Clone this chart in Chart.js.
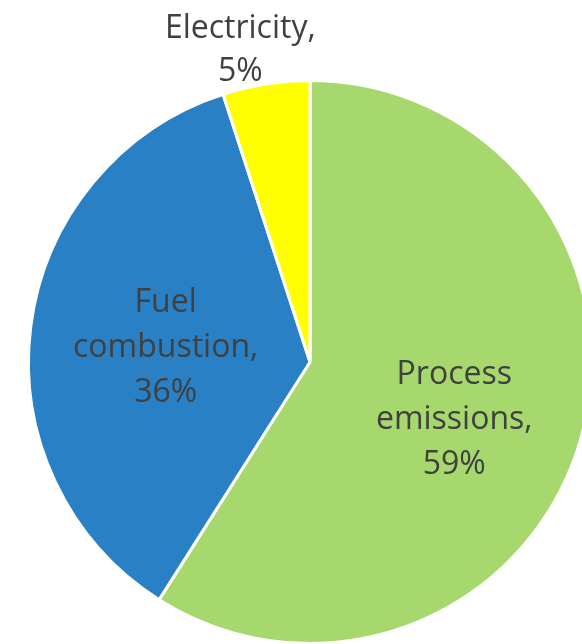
<!DOCTYPE html>
<html>
<head>
<meta charset="utf-8">
<script src="https://cdn.jsdelivr.net/npm/chart.js@4"></script>
<style>
  html, body { margin: 0; padding: 0; background: #fff; overflow: hidden; width: 582px; height: 644px; }
  canvas { display: block; }
</style>
</head>
<body>
<canvas id="pie" width="620" height="646"></canvas>
<script>
// data
const categories = ['Process emissions', 'Fuel combustion', 'Electricity'];
const shares = [59, 36, 5];
const sliceColors = ['#A6D86E', '#2A80C5', '#FFFF00'];

// where each label sits: fraction of radius + small angle nudge (degrees)
const labelLines = [['Process', 'emissions,', '59%'], ['Fuel', 'combustion,', '36%'], ['Electricity,', '5%']];
const labelPlace = [
  { factor: 0.552, nudge: 5.6, lineGap: 45 },
  { factor: 0.515, nudge: -1.7, lineGap: 45 },
  { factor: 1.135, nudge: -3.6, lineGap: 43 }
];

const pieLabels = {
  id: 'pieLabels',
  afterDatasetsDraw(chart) {
    const ctx = chart.ctx;
    const arcs = chart.getDatasetMeta(0).data;
    ctx.save();
    ctx.fillStyle = '#404040';
    ctx.font = '32px "Open Sans"';
    ctx.textAlign = 'center';
    ctx.textBaseline = 'middle';
    arcs.forEach((arc, i) => {
      const p = arc.getProps(['x', 'y', 'startAngle', 'endAngle', 'outerRadius'], true);
      const place = labelPlace[i];
      const mid = (p.startAngle + p.endAngle) / 2 + place.nudge * Math.PI / 180;
      const r = p.outerRadius * place.factor;
      const cx = p.x + Math.cos(mid) * r;
      const cy = p.y + Math.sin(mid) * r;
      const lines = labelLines[i];
      const top = cy - (lines.length - 1) * place.lineGap / 2;
      lines.forEach((t, k) => ctx.fillText(t, cx, top + k * place.lineGap));
    });
    ctx.restore();
  }
};

new Chart(document.getElementById('pie'), {
  type: 'pie',
  data: {
    labels: categories,
    datasets: [{
      data: shares,
      backgroundColor: sliceColors,
      borderColor: '#ffffff',
      borderWidth: 3
    }]
  },
  options: {
    responsive: false,
    animation: false,
    layout: { padding: { top: 79, bottom: 1, left: 0, right: 0 } },
    plugins: {
      legend: { display: false },
      tooltip: { enabled: false }
    }
  },
  plugins: [pieLabels]
});
</script>
</body>
</html>
